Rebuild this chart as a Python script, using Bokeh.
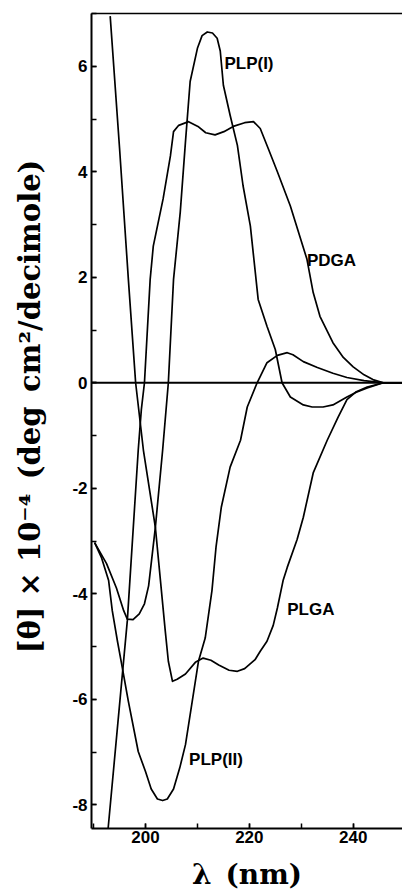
from bokeh.plotting import figure
from bokeh.models import (Range1d, SingleIntervalTicker, FixedTicker, LinearAxis, Span, ColumnDataSource,
                          PrintfTickFormatter)
from bokeh.core.properties import value
from bokeh.embed import file_html
from bokeh.resources import INLINE

# ---- data (wavelength nm, [theta] x 1e-4) ----
plga_nm = [193.2, 195.0, 196.7, 198.1, 199.6, 201.9, 203.8, 204.4, 205.2, 206.1, 207.7, 209.6, 211.1, 212.6, 214.1,
           216.1, 217.7, 219.1, 221.1, 222.1, 223.4, 224.6, 225.4, 226.5, 227.3, 229.2, 230.4, 232.3, 235.0, 237.1,
           238.8, 240.6, 242.7, 245.8, 249.5]
plga_theta = [6.95, 4.45, 1.96, 0.0, -1.28, -2.74, -4.70, -5.28, -5.66, -5.62, -5.52, -5.30, -5.22, -5.26, -5.35,
              -5.45, -5.47, -5.42, -5.25, -5.09, -4.90, -4.60, -4.27, -3.75, -3.50, -2.97, -2.55, -1.71, -1.09, -0.65,
              -0.32, -0.17, -0.08, 0.0, 0.0]

pdga_nm = [192.8, 196.5, 198.6, 199.2, 199.8, 200.9, 201.5, 203.4, 204.8, 205.4, 206.4, 208.3, 210.1, 211.6, 213.4,
           215.1, 216.9, 219.1, 220.8, 222.1, 223.6, 225.4, 227.9, 231.1, 232.3, 233.6, 236.1, 238.1, 240.0, 242.1,
           243.8, 245.8, 249.5]
pdga_theta = [-8.45, -4.51, -1.28, -0.51, 0.0, 1.96, 2.59, 3.49, 4.30, 4.76, 4.88, 4.95, 4.86, 4.74, 4.70,
              4.76, 4.86, 4.93, 4.95, 4.82, 4.45, 4.00, 3.35, 2.34, 1.71, 1.26, 0.76, 0.48, 0.30, 0.15,
              0.06, 0.0, 0.0]

plp1_nm = [190.2, 192.5, 194.4, 195.8, 196.5, 197.6, 198.8, 199.8, 200.6, 201.9, 203.3, 204.4, 205.4, 206.7, 207.7,
           208.6, 210.0, 210.9, 211.9, 212.9, 213.8, 214.4, 215.0, 216.3, 217.7, 218.8, 220.2, 221.7, 223.4, 225.0,
           226.3, 227.9, 230.4, 232.1, 234.2, 236.1, 238.8, 240.6, 242.7, 245.8, 249.5]
plp1_theta = [-3.03, -3.43, -3.89, -4.32, -4.48, -4.49, -4.38, -4.19, -3.85, -2.74, -1.28, 0.0, 1.96, 3.24, 4.57,
              5.71, 6.34, 6.58, 6.65, 6.63, 6.53, 6.29, 5.64, 5.07, 4.50, 3.73, 2.97, 1.58, 1.07, 0.63,
              0.0, -0.27, -0.42, -0.46, -0.46, -0.42, -0.27, -0.18, -0.10, 0.0, 0.0]

plp2_nm = [190.2, 191.5, 192.9, 193.6, 194.6, 195.4, 196.7, 198.6, 200.0, 201.1, 202.3, 203.3, 204.2, 205.4, 206.6,
           207.7, 209.0, 210.2, 211.5, 212.8, 213.6, 214.6, 216.3, 218.3, 219.6, 221.5, 223.4, 225.4, 227.3, 228.4,
           230.4, 233.1, 236.1, 238.8, 242.1, 245.8, 249.5]
plp2_theta = [-3.03, -3.31, -3.75, -4.32, -4.90, -5.33, -6.04, -6.99, -7.37, -7.70, -7.89, -7.92, -7.89, -7.70, -7.30,
              -6.86, -6.04, -5.28, -4.84, -3.94, -3.10, -2.36, -1.60, -1.09, -0.46, 0.0, 0.38, 0.52, 0.57, 0.53,
              0.40, 0.29, 0.18, 0.10, 0.04, 0.0, 0.0]

label_names = ["PLP(I)", "PDGA", "PLGA", "PLP(II)"]
label_nm = [215.2, 231.1, 227.3, 208.4]
label_theta = [6.06, 2.32, -4.30, -7.14]

zero_level = 0.0

x_ticks_interval = 20
y_ticks_interval = 2

# ---- figure ----
p = figure(width=402, height=896,
           x_range=Range1d(189.6, 249.5), y_range=Range1d(-8.45, 7.0),
           output_backend="svg", toolbar_location=None,
           min_border_left=91, min_border_right=0, min_border_top=13, min_border_bottom=68)
p.outline_line_color = None
p.grid.grid_line_color = None
p.background_fill_color = "white"
p.border_fill_color = "white"

curve_style = dict(line_color="black", line_width=1.7, line_join="round")
p.line(plga_nm, plga_theta, **curve_style)
p.line(pdga_nm, pdga_theta, **curve_style)
p.line(plp1_nm, plp1_theta, **curve_style)
p.line(plp2_nm, plp2_theta, **curve_style)

p.add_layout(Span(location=zero_level, dimension="width", line_color="black", line_width=2.2))

src = ColumnDataSource(dict(x=label_nm, y=label_theta, t=label_names))
p.text(x="x", y="y", text="t", source=src,
       text_font=value("Liberation Sans"), text_font_style="bold",
       text_font_size="17px", text_align="left", text_baseline="middle", text_color="black")

# axes
xa = p.xaxis[0]
xa.ticker = SingleIntervalTicker(interval=x_ticks_interval, num_minor_ticks=2)
ya = p.yaxis[0]
ya.ticker = SingleIntervalTicker(interval=y_ticks_interval, num_minor_ticks=2)
ya.formatter = PrintfTickFormatter(format="%d")

for ax in (xa, ya):
    ax.axis_line_color = "black"
    ax.axis_line_width = 2
    ax.major_tick_line_color = "black"
    ax.minor_tick_line_color = "black"
    ax.major_tick_line_width = 1.5
    ax.minor_tick_line_width = 1.5
    ax.major_tick_in = 5
    ax.major_tick_out = 0
    ax.minor_tick_in = 5
    ax.minor_tick_out = 0
    ax.major_label_text_font = "Liberation Sans"
    ax.major_label_text_font_style = "bold"
    ax.major_label_text_font_size = "17px"
    ax.major_label_text_color = "black"
    ax.axis_label_text_font = "DejaVu Serif"
    ax.axis_label_text_font_style = "bold"
    ax.axis_label_text_color = "black"

xa.major_label_standoff = 2
xa.axis_label = "λ\u2002(nm)"
xa.axis_label_text_font_size = "28px"
xa.axis_label_standoff = 12
ya.major_label_standoff = 4
ya.axis_label = "\u2003[θ] × 10⁻⁴\u2002(deg\u2002cm²/decimole)"
ya.axis_label_text_font_size = "29px"
ya.axis_label_standoff = 22

top = LinearAxis(ticker=FixedTicker(ticks=[]), axis_line_color="black", axis_line_width=1.5,
                 major_label_text_font_size="0px", major_tick_in=0, major_tick_out=0,
                 minor_tick_in=0, minor_tick_out=0, major_label_standoff=0)
p.add_layout(top, "above")

open("out.html", "w").write(file_html(p, INLINE))
